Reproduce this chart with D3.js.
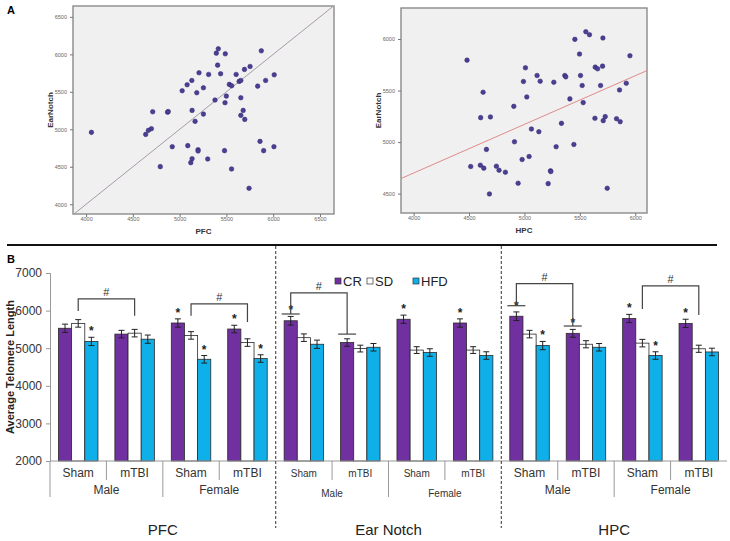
<!DOCTYPE html>
<html><head><meta charset="utf-8">
<script src="https://cdn.jsdelivr.net/npm/d3@7"></script>
<style>
html,body{margin:0;padding:0;background:#fff;}
svg{display:block;font-family:"Liberation Sans",Arial,sans-serif;}
</style></head>
<body><svg id="c" width="730" height="541"></svg>
<script>
// ---------- Panel A data ----------
const pfcX = [4057,4712,4871,4878,4698,4666,4637,4793,4921,5027,5080,5130,5207,5183,5254,5310,5133,5254,5165,5087,5197,5197,5133,5119,5300,5392,5413,5488,5406,5438,5378,5485,5499,5531,5556,5480,5555,5604,5636,5654,5654,5693,5753,5679,5654,5696,5742,5873,5834,5919,6011,5859,5898,6008];
const pfcEar = [4959,5234,5229,5236,5008,4986,4932,4502,4768,5514,5594,5652,5754,5488,5554,5732,5252,5203,5106,4782,4728,4710,4608,4555,4604,6016,6074,6007,5856,5741,5390,5355,5443,5599,5581,4715,4471,5732,5639,5652,5421,5799,5838,5252,5186,5132,4213,6047,5576,5652,5727,4839,4715,4768];
const hpcX = [4482,4627,4605,4693,4657,4515,4602,4633,4684,4747,4771,4828,4904,4910,4943,4979,4991,5009,5021,5042,5063,5114,5130,5142,5214,5235,5238,5265,5286,5334,5364,5373,5410,5446,5455,5497,5506,5521,5530,5554,5587,5636,5639,5660,5687,5705,5708,5711,5729,5747,5831,5864,5858,5919,5952];
const hpcEar = [5795,5484,5237,5244,4929,4763,4776,4747,4497,4766,4727,4708,5347,5003,4601,4831,5588,5721,5438,4860,5127,5646,5101,5591,4597,4721,4714,5581,4955,5182,5646,5633,5419,4977,5997,5854,5646,5549,5383,6071,6042,5231,5727,5711,5549,5737,6010,5208,5247,4552,5227,5198,5506,5571,5838];
const pfcTicksX = [4000,4500,5000,5500,6000,6500];
const pfcTicksY = [4000,4500,5000,5500,6000,6500];
const hpcTicksX = [4000,4500,5000,5500,6000];
const hpcTicksY = [4500,5000,5500,6000];
const hpcFit = {slope:0.472, intercept:2812};

// ---------- Panel B data ----------
const regions = ["PFC","Ear Notch","HPC"];
const sexes = ["Male","Female"];
const conditions = ["Sham","mTBI"];
const series = ["CR","SD","HFD"];
const crValues  = [5530,5375,5670,5510, 5730,5150,5770,5670, 5850,5395,5790,5660];
const sdValues  = [5660,5400,5340,5150, 5280,4990,4950,4950, 5375,5105,5135,4985];
const hfdValues = [5180,5240,4705,4725, 5105,5025,4885,4805, 5070,5025,4805,4900];
const crErr  = [110,100,110,100, 115,100,110,110, 115,105,110,110];
const sdErr  = [100,100,100,100, 100,90,90,90, 100,95,100,95];
const hfdErr = [110,110,100,100, 110,100,100,100, 110,100,100,100];
const bTicks = [2000,3000,4000,5000,6000,7000];
const starMarks = [[0,"HFD"],[2,"CR"],[2,"HFD"],[3,"CR"],[3,"HFD"],[4,"CR"],[6,"CR"],[7,"CR"],[8,"CR"],[8,"HFD"],[9,"CR"],[10,"CR"],[10,"HFD"],[11,"CR"]];
const brackets = [
  {g1:0,s1:"SD",g2:1,s2:"SD",top:6310,end1:5990,end2:5860,caps:false},
  {g1:2,s1:"SD",g2:3,s2:"SD",top:6180,end1:5860,end2:5700,caps:false},
  {g1:4,s1:"CR",g2:5,s2:"CR",top:6470,end1:5910,end2:5375,caps:true},
  {g1:8,s1:"CR",g2:9,s2:"CR",top:6715,end1:6130,end2:5590,caps:true},
  {g1:10,s1:"SD",g2:11,s2:"SD",top:6660,end1:6045,end2:5885,caps:false}
];
const colors = {CR:"#7030a0", SD:"#ffffff", HFD:"#0fb0ea"};

const svg = d3.select("#c");
svg.append("rect").attr("width",730).attr("height",541).attr("fill","#fff");

// ---------- scatter ----------
function scatter(frame, xs, ys, xDom, yDom, xt, yt, xLabel, lineFn, lineColor){
  const g = svg.append("g");
  const x = d3.scaleLinear().domain(xDom).range([frame.x0, frame.x1]);
  const y = d3.scaleLinear().domain(yDom).range([frame.y1, frame.y0]);
  g.append("rect").attr("x",frame.x0).attr("y",frame.y0)
    .attr("width",frame.x1-frame.x0).attr("height",frame.y1-frame.y0)
    .attr("fill","#f0f0f0").attr("stroke","#8a8a8a").attr("stroke-width",1.4);
  const clipId = "clip"+Math.round(frame.x0);
  g.append("clipPath").attr("id",clipId).append("rect")
    .attr("x",frame.x0).attr("y",frame.y0).attr("width",frame.x1-frame.x0).attr("height",frame.y1-frame.y0);
  const x0d = xDom[0], x1d = xDom[1];
  g.append("line").attr("clip-path","url(#"+clipId+")")
    .attr("x1",x(x0d)).attr("y1",y(lineFn(x0d))).attr("x2",x(x1d)).attr("y2",y(lineFn(x1d)))
    .attr("stroke",lineColor).attr("stroke-width",1);
  const ax = d3.axisBottom(x).tickValues(xt).tickSize(3).tickFormat(d3.format("d"));
  const ay = d3.axisLeft(y).tickValues(yt).tickSize(3).tickFormat(d3.format("d"));
  const gx = g.append("g").attr("transform","translate(0,"+frame.y1+")").call(ax);
  const gy = g.append("g").attr("transform","translate("+frame.x0+",0)").call(ay);
  [gx,gy].forEach(a=>{
    a.select(".domain").remove();
    a.selectAll("line").attr("stroke","#777");
    a.selectAll("text").attr("font-size",5.5).attr("fill","#666");
  });
  gx.selectAll("text").attr("dy","0.9em").attr("y",2);
  g.append("g").selectAll("circle").data(xs).join("circle")
    .attr("cx",(d)=>x(d)).attr("cy",(d,i)=>y(ys[i])).attr("r",2.3)
    .attr("fill","#4a3f93").attr("stroke","#2e2670").attr("stroke-width",0.5);
  g.append("text").attr("x",(frame.x0+frame.x1)/2).attr("y",frame.y1+20)
    .attr("text-anchor","middle").attr("font-size",8).attr("font-weight","bold").attr("fill","#333").text(xLabel);
  g.append("text").attr("transform","translate("+(frame.x0-20)+","+((frame.y0+frame.y1)/2)+") rotate(-90)")
    .attr("text-anchor","middle").attr("font-size",8).attr("font-weight","bold").attr("fill","#333").text("EarNotch");
}
scatter({x0:73,x1:334,y0:6,y1:214}, pfcX, pfcEar, [3860,6650],[3870,6645], pfcTicksX, pfcTicksY, "PFC", v=>v, "#a89aa8");
scatter({x0:401,x1:647,y0:8,y1:213}, hpcX, hpcEar, [3886,6106],[4312,6301], hpcTicksX, hpcTicksY, "HPC", v=>hpcFit.intercept+hpcFit.slope*v, "#e08a8a");

svg.append("text").attr("x",7).attr("y",14).attr("font-size",11).attr("font-weight","bold").text("A");
svg.append("line").attr("x1",7).attr("x2",717).attr("y1",245).attr("y2",245).attr("stroke","#111").attr("stroke-width",2);
svg.append("text").attr("x",7).attr("y",263).attr("font-size",11).attr("font-weight","bold").text("B");

// ---------- bar chart ----------
const groups = [];
regions.forEach(r=>sexes.forEach(s=>conditions.forEach(c=>groups.push({region:r,sex:s,cond:c}))));
const valuesBy = {CR:crValues, SD:sdValues, HFD:hfdValues};
const errBy = {CR:crErr, SD:sdErr, HFD:hfdErr};
const x0 = d3.scaleBand().domain(d3.range(groups.length)).range([50,727]);
const bw = x0.bandwidth();
const x1 = d3.scaleBand().domain(series).range([bw*0.15, bw*0.85]);
const yB = d3.scaleLinear().domain([2000,7000]).range([461,273]);
const cx = (g,s)=>x0(g)+x1(s)+x1.bandwidth()/2;

const bg = svg.append("g");
const ayB = d3.axisLeft(yB).tickValues(bTicks).tickSize(4).tickFormat(d3.format("d"));
const gyB = bg.append("g").attr("transform","translate(50,0)").call(ayB);
gyB.select(".domain").attr("stroke","#999");
gyB.selectAll("line").attr("stroke","#999");
gyB.selectAll("text").attr("font-size",12).attr("fill","#333").attr("x",-8);

bg.append("text").attr("transform","translate(14,367) rotate(-90)").attr("text-anchor","middle")
  .attr("font-size",11).attr("font-weight","bold").attr("fill","#222").text("Average Telomere Length");

// bars
series.forEach(s=>{
  bg.append("g").selectAll("rect").data(valuesBy[s]).join("rect")
    .attr("x",(d,i)=>x0(i)+x1(s)).attr("width",x1.bandwidth())
    .attr("y",d=>yB(d)).attr("height",d=>yB(2000)-yB(d))
    .attr("fill",colors[s]).attr("stroke","#2a2a2a").attr("stroke-width",0.8);
});
// error bars
series.forEach(s=>{
  const eg = bg.append("g").attr("stroke","#222").attr("stroke-width",1);
  valuesBy[s].forEach((v,i)=>{
    const e = errBy[s][i], c = cx(i,s);
    eg.append("line").attr("x1",c).attr("x2",c).attr("y1",yB(v-e)).attr("y2",yB(v+e));
    eg.append("line").attr("x1",c-3).attr("x2",c+3).attr("y1",yB(v-e)).attr("y2",yB(v-e));
    eg.append("line").attr("x1",c-3).attr("x2",c+3).attr("y1",yB(v+e)).attr("y2",yB(v+e));
  });
});
// x axis
bg.append("line").attr("x1",50).attr("x2",727).attr("y1",yB(2000)).attr("y2",yB(2000)).attr("stroke","#999");
bg.append("line").attr("x1",50).attr("x2",50).attr("y1",yB(2000)).attr("y2",497).attr("stroke","#999");
groups.forEach((g,i)=>{
  if(i===0) return;
  const xb = x0(i);
  if(groups[i-1].region!==g.region) return;
  const long = groups[i-1].sex!==g.sex;
  bg.append("line").attr("x1",xb).attr("x2",xb).attr("y1",yB(2000)).attr("y2",long?497:480).attr("stroke","#999");
});
const condSize = {"PFC":12,"Ear Notch":10,"HPC":12};
groups.forEach((g,i)=>{
  bg.append("text").attr("x",x0(i)+bw/2).attr("y",477).attr("text-anchor","middle")
    .attr("font-size",condSize[g.region]).attr("fill","#333").text(g.cond);
});
regions.forEach((r,ri)=>{
  sexes.forEach((s,si)=>{
    const i0 = ri*4+si*2;
    const c = (x0(i0)+x0(i0+1)+bw)/2;
    bg.append("text").attr("x",c).attr("y",r==="Ear Notch"?497:494).attr("text-anchor","middle")
      .attr("font-size",condSize[r]).attr("fill","#333").text(s);
  });
  const c = (x0(ri*4)+x0(ri*4+3)+bw)/2;
  bg.append("text").attr("x",c).attr("y",535).attr("text-anchor","middle")
    .attr("font-size",15).attr("fill","#222").text(r);
  if(ri>0){
    const xb = x0(ri*4);
    bg.append("line").attr("x1",xb).attr("x2",xb).attr("y1",246).attr("y2",528)
      .attr("stroke","#555").attr("stroke-width",1.2).attr("stroke-dasharray","3,2");
  }
});
// stars
starMarks.forEach(([g,s])=>{
  const v = valuesBy[s][g]+errBy[s][g];
  bg.append("text").attr("x",cx(g,s)).attr("y",yB(v)-2).attr("text-anchor","middle")
    .attr("font-size",12).attr("font-weight","bold").attr("fill","#222").text("*");
});
// brackets
brackets.forEach(b=>{
  const xa = cx(b.g1,b.s1), xb = cx(b.g2,b.s2);
  const yt = yB(b.top);
  bg.append("path").attr("d",`M${xa},${yB(b.end1)}V${yt}H${xb}V${yB(b.end2)}`)
    .attr("fill","none").attr("stroke","#444").attr("stroke-width",1.2);
  if(b.caps){
    [[xa,b.end1],[xb,b.end2]].forEach(([xx,v])=>{
      bg.append("line").attr("x1",xx-9).attr("x2",xx+9).attr("y1",yB(v)).attr("y2",yB(v))
        .attr("stroke","#444").attr("stroke-width",1.2);
    });
  }
  bg.append("text").attr("x",(xa+xb)/2).attr("y",yt-3).attr("text-anchor","middle")
    .attr("font-size",11).attr("fill","#333").text("#");
});
// legend
const leg = bg.append("g");
const legPos = [[335,"CR"],[367,"SD"],[413,"HFD"]];
legPos.forEach(([lx,s])=>{
  leg.append("rect").attr("x",lx).attr("y",278).attr("width",6).attr("height",6)
    .attr("fill",colors[s]).attr("stroke","#333").attr("stroke-width",0.7);
  leg.append("text").attr("x",lx+8).attr("y",285.5).attr("font-size",13).attr("fill","#222").text(s);
});
</script></body></html>
